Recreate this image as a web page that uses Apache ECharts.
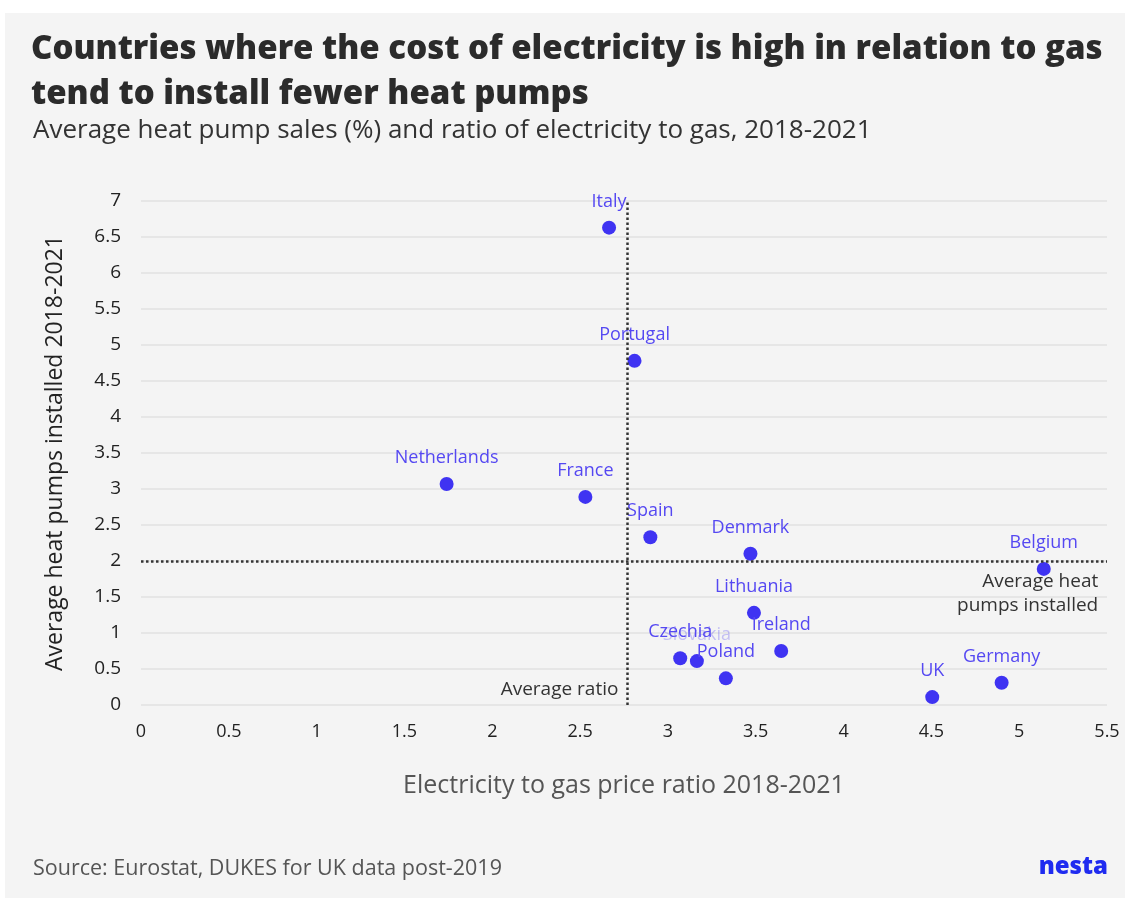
<!DOCTYPE html>
<html>
<head>
<meta charset="utf-8">
<script src="https://cdn.jsdelivr.net/npm/echarts@6/dist/echarts.min.js"></script>
<style>
  html, body { margin: 0; padding: 0; background: #fff; }
  #panel { position: absolute; left: 5px; top: 13px; right: 8px; bottom: 0; background: #f4f4f4; }
  #chart { position: absolute; left: 0; top: 0; width: 1133px; height: 898px; }
</style>
</head>
<body>
<div id="panel"></div>
<div id="chart"></div>
<script>
// countries, price ratio (x) and heat pumps installed (y)
var countries = ['Italy', 'Portugal', 'Netherlands', 'France', 'Spain', 'Denmark', 'Belgium',
                 'Lithuania', 'Ireland', 'Slovakia', 'Czechia', 'Poland', 'UK', 'Germany'];
var ratio     = [2.665, 2.81, 1.74, 2.53, 2.90, 3.47, 5.14, 3.49, 3.645, 3.165, 3.07, 3.33, 4.505, 4.90];
var pumps     = [6.63, 4.78, 3.07, 2.89, 2.33, 2.10, 1.89, 1.28, 0.75, 0.61, 0.65, 0.37, 0.11, 0.31];
var avgRatio = 2.775;
var avgPumps = 2;

var blue = '#3f33f2';
var labelBlue = '#5548f2';
var font = 'Open Sans';

var points = countries.map(function (c, i) {
  var p = { name: c, value: [ratio[i], pumps[i]] };
  if (c === 'Slovakia') p.label = { color: 'rgba(85,72,242,0.3)' };
  return p;
});

var chart = echarts.init(document.getElementById('chart'));
var option = {
  backgroundColor: 'transparent',
  textStyle: { fontFamily: font },
  title: [
    {
      text: 'Countries where the cost of electricity is high in relation to gas\ntend to install fewer heat pumps',
      left: 26, top: 22,
      textStyle: { fontFamily: font, fontWeight: 800, fontSize: 33, lineHeight: 45, color: '#2b2b2b' }
    },
    {
      text: 'Average heat pump sales (%) and ratio of electricity to gas, 2018-2021',
      left: 28, top: 113,
      textStyle: { fontFamily: font, fontWeight: 'normal', fontSize: 26, color: '#333' }
    },
    {
      text: 'Source: Eurostat, DUKES for UK data post-2019',
      left: 28, top: 853,
      textStyle: { fontFamily: font, fontWeight: 'normal', fontSize: 21.5, color: '#555' }
    },
    {
      text: 'nesta',
      right: 20, top: 850,
      textStyle: { fontFamily: font, fontWeight: 800, fontSize: 24, color: '#1f2bf0' }
    }
  ],
  grid: { left: 141, right: 26, top: 201, bottom: 193 },
  xAxis: {
    type: 'value', min: 0, max: 5.5, interval: 0.5,
    name: 'Electricity to gas price ratio 2018-2021',
    nameLocation: 'middle', nameGap: 68,
    nameTextStyle: { fontSize: 25, color: '#555', fontFamily: font },
    axisLine: { show: false }, axisTick: { show: false },
    splitLine: { show: false },
    axisLabel: { fontSize: 18, color: '#222', margin: 18, fontFamily: font }
  },
  yAxis: {
    type: 'value', min: 0, max: 7, interval: 0.5,
    name: 'Average heat pumps installed 2018-2021',
    nameLocation: 'middle', nameGap: 74, nameRotate: 90,
    nameTextStyle: { fontSize: 23, color: '#222', fontFamily: font },
    axisLine: { show: false }, axisTick: { show: false },
    splitLine: { show: true, lineStyle: { color: '#e2e2e2', width: 1.5 } },
    axisLabel: { fontSize: 19, color: '#222', margin: 20, fontFamily: font }
  },
  series: [{
    type: 'scatter',
    symbolSize: 14,
    itemStyle: { color: blue, opacity: 1 },
    label: {
      show: true, position: 'top', distance: 10,
      formatter: '{b}', fontSize: 18, color: labelBlue, fontFamily: font
    },
    labelLayout: { hideOverlap: false },
    data: points,
    markLine: {
      silent: true, symbol: ['none', 'none'], animation: false,
      lineStyle: { type: 'dotted', color: '#333', width: 2.5 },
      label: { show: false },
      data: [
        { xAxis: avgRatio },
        { yAxis: avgPumps }
      ]
    },
    z: 3
  }],
  animation: false
};
chart.setOption(option);

var pRatio = chart.convertToPixel('grid', [avgRatio, 0.22]);
var pPumps = chart.convertToPixel('grid', [5.45, 1.88]);
chart.setOption({
  graphic: [
    {
      type: 'text', x: pRatio[0] - 10, y: pRatio[1],
      style: { text: 'Average ratio', align: 'right', verticalAlign: 'middle',
               fontSize: 19, fill: '#333', fontFamily: font }
    },
    {
      type: 'text', x: pPumps[0], y: pPumps[1],
      style: { text: 'Average heat\npumps installed', align: 'right', verticalAlign: 'top',
               fontSize: 19, lineHeight: 24, fill: '#333', fontFamily: font }
    }
  ]
});
</script>
</body>
</html>
